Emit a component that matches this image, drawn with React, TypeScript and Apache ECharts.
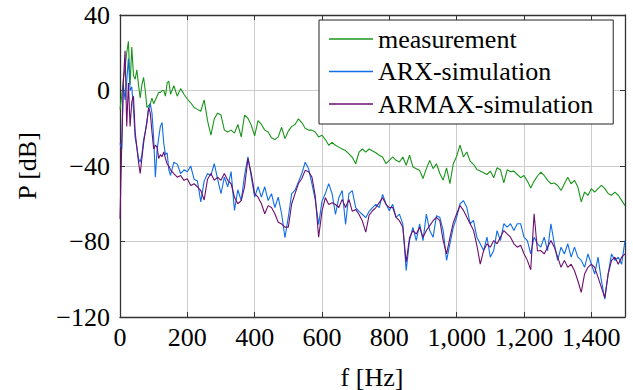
import { useEffect, useRef } from "react";
import * as echarts from "echarts";

// frequency grid [Hz]
const FREQ = [
  0, 5, 10, 15, 20, 25, 30, 35, 40, 45, 50, 55, 60, 65, 70, 75, 80, 85, 90, 95, 100, 105, 110, 115, 120, 125, 130, 135, 140, 145, 150,
  160, 170, 180, 190, 200, 210, 220, 230, 240, 250,
  260, 270, 280, 290, 300, 310, 320, 330, 340, 350,
  360, 370, 380, 390, 400, 410, 420, 430, 440, 450,
  460, 470, 480, 490, 500, 510, 520, 530, 540, 550,
  560, 570, 580, 590, 600, 610, 620, 630, 640, 650,
  660, 670, 680, 690, 700, 710, 720, 730, 740, 750,
  760, 770, 780, 790, 800, 810, 820, 830, 840, 850,
  860, 870, 880, 890, 900, 910, 920, 930, 940, 950,
  960, 970, 980, 990, 1000, 1010, 1020, 1030, 1040, 1050,
  1060, 1070, 1080, 1090, 1100, 1110, 1120, 1130, 1140, 1150,
  1160, 1170, 1180, 1190, 1200, 1210, 1220, 1230, 1240, 1250,
  1260, 1270, 1280, 1290, 1300, 1310, 1320, 1330, 1340, 1350,
  1360, 1370, 1380, 1390, 1400, 1410, 1420, 1430, 1440, 1450,
  1460, 1470, 1480, 1490, 1500,
];

const MEASUREMENT = [
  -10, -3, 6, 12, 20, 26, 3, 23, 8, 6, 11, 3, -4, 3, 7, 0, -9, -8, -7, -4, -7, -5, -3, -1, -1, 0, 0, -3, 4, 5, -2,
  2.5, -3, 1, -2, -4.5, -6.5, -9, -10, -11, -5,
  -16, -23.7, -15, -12, -13, -21, -22, -21, -22.6, -18,
  -24.6, -13, -14.7, -18.4, -24, -16, -18, -21, -22, -25,
  -26, -24.6, -19.5, -25.5, -21.5, -19, -18, -15, -17, -20,
  -21, -21, -22, -24.6, -23.7, -26, -29, -27.5, -29, -30,
  -31, -31.8, -33.6, -35.4, -38.8, -32.7, -31, -32.7, -31, -32,
  -33, -34.3, -35.2, -38.8, -37, -35.2, -37, -37.9, -35.2, -39.6,
  -34.3, -40.5, -41.4, -42.3, -46.6, -41.4, -37, -41.4, -38.8, -44,
  -47.5, -41, -49.3, -38.8, -34.8, -29, -35.2, -32.6, -37.4, -39.1,
  -41.8, -42.7, -43.6, -44.5, -42.7, -46.2, -40.9, -42, -49, -42,
  -43, -42.7, -44.5, -46.2, -45, -48, -51.6, -48, -45.3, -43.3,
  -45, -47.6, -49.4, -49, -50.3, -53, -49.4, -45.9, -49.4, -47.6,
  -51.1, -59, -53.8, -55.5, -52, -53.8, -52, -50.3, -52, -54.6,
  -55.5, -53.8, -55.5, -58.2, -61,
];

const ARX_SIM = [
  -28, -31, 3, -5, 5, 17, 0, 2, -10, -25, -30, -36, -38, -34, -26, -22, -16, -10, -7, -12, -25, -46, -32, -25, -19, -17, -28, -34, -33, -42, -45,
  -38, -39, -44, -42, -43, -40, -47, -48, -59, -48,
  -44, -45, -38.8, -47, -54.7, -45.9, -51, -43, -63.5, -52.6,
  -58.3, -45, -35.2, -45.9, -56.5, -51, -56.5, -51, -58.3, -54.7,
  -62, -56.5, -65.3, -78, -67, -54.6, -52.8, -48.4, -44, -38,
  -41.3, -49.3, -58, -71, -58.6, -54.6, -49.3, -54.6, -65.7, -56.8,
  -53, -71, -54.6, -53, -62, -64, -65.7, -67.4, -64, -62,
  -60.3, -62, -55, -60, -63.7, -60.3, -67.2, -65.5, -70.7, -95.4,
  -79.5, -72.5, -79.5, -70.7, -79.5, -65.5, -74.2, -77.8, -66.3, -67.2,
  -74.2, -90, -81.3, -72.5, -67.2, -60, -58.3, -61.8, -70.6, -68.8,
  -77.7, -81.2, -84.8, -77.7, -88.3, -84.8, -74.2, -79.5, -70.6, -72.4,
  -70.6, -74.2, -70.6, -70.6, -77.7, -79.5, -86.5, -77.7, -81.2, -83,
  -77.7, -84.8, -70.6, -81.2, -90, -83, -86.6, -81.2, -88.3, -83,
  -88.3, -90, -93.7, -86.6, -92, -97.2, -88.3, -101, -110.5, -97.2,
  -86.6, -90, -88.3, -92, -79.5,
];

const ARMAX_SIM = [
  -68, -30, 5, 21, -19, 4, -19, -6, -3, -22, -30, -38, -44, -36, -28, -22, -17, -9, -12, -22, -31, -29, -30, -36, -34, -35, -32.5, -36, -39, -40, -42,
  -44, -45.9, -45, -47.6, -46.8, -50.3, -49.4, -51, -53, -58,
  -47, -44, -47.6, -45.9, -47.6, -44, -47.6, -49.4, -56.5, -60,
  -58.3, -51, -36, -44, -54.7, -56.5, -60, -65.3, -61, -62,
  -65.3, -69.8, -70.7, -72.4, -72.4, -60, -54.6, -49.3, -46.6, -42.3,
  -43, -45.8, -56, -77.7, -63.9, -56.8, -60.4, -59.5, -60.4, -62,
  -57.7, -62, -57.7, -64, -63, -65.7, -69.2, -75, -66, -63.7,
  -62, -59.4, -56.8, -60.3, -62, -62, -67.2, -69, -72.5, -91,
  -78, -74.2, -76, -72.5, -77.8, -74.2, -71.6, -69, -67.2, -69,
  -79.5, -86.6, -78, -70, -65.3, -60.9, -63.5, -67, -70.6, -74,
  -82, -92, -84.8, -81.2, -83, -79.5, -81.2, -77.7, -74.2, -76,
  -77.7, -81.2, -83, -82, -86.5, -90, -95, -65.3, -85, -84.8,
  -86.6, -83, -79.5, -83, -88.3, -93.7, -90, -93.7, -92, -95.5,
  -100.8, -107, -97.2, -93.7, -92, -93.7, -99, -104.4, -109.7, -97.2,
  -90, -88.3, -92, -88.3, -86.6,
];

const SERIES_NAMES = ["measurement", "ARX-simulation", "ARMAX-simulation"];
const SERIES_COLORS = ["#1a961a", "#0f6ee8", "#6c0f6e"];
const X_LABEL = "f [Hz]";
const Y_LABEL = "P [dB]";

const FONT = "'Liberation Serif', serif";

function fmtX(v: number): string {
  if (v >= 1500) return "";
  const s = v >= 1000 ? `${Math.floor(v / 1000)},${String(v % 1000).padStart(3, "0")}` : String(v);
  return `{t|${s}}`;
}
function fmtY(v: number): string {
  const s = v < 0 ? "\u2212" + Math.abs(v) : String(v);
  return `{t|${s}}`;
}

export default function App() {
  const ref = useRef<HTMLDivElement>(null);
  useEffect(() => {
    const chart = echarts.init(ref.current!, null, { renderer: "svg" });
    const pairs = (vals: number[]) => FREQ.map((f, i) => [f, vals[i]]);
    const axisLine = { show: true, onZero: false, lineStyle: { color: "#333", width: 1.3 } };
    const tick = { show: true, inside: true, length: 5, lineStyle: { color: "#333", width: 1 } };
    const data = [MEASUREMENT, ARX_SIM, ARMAX_SIM];
    const rich = { t: { fontSize: 26, fontFamily: FONT, color: "#000", lineHeight: 26 } };
    chart.setOption({
      animation: false,
      backgroundColor: "#fff",
      textStyle: { fontFamily: FONT, color: "#000", fontSize: 26 },
      grid: { left: 120, right: 8, top: 15, bottom: 73, containLabel: false },
      xAxis: [
        {
          type: "value", min: 0, max: 1500, interval: 200, position: "bottom",
          axisLine, axisTick: tick,
          axisLabel: { fontSize: 26, fontFamily: FONT, color: "#000", margin: 7, formatter: fmtX, rich, showMaxLabel: false },
          splitLine: { show: true, lineStyle: { color: "#cccccc", width: 1 } },
        },
        {
          type: "value", min: 0, max: 1500, interval: 200, position: "top",
          axisLine, axisTick: tick, axisLabel: { show: false }, splitLine: { show: false },
        },
      ],
      yAxis: [
        {
          type: "value", min: -120, max: 40, interval: 40, position: "left",
          axisLine, axisTick: tick,
          axisLabel: { fontSize: 26, fontFamily: FONT, color: "#000", margin: 10, formatter: fmtY, rich },
          splitLine: { show: true, lineStyle: { color: "#cccccc", width: 1 } },
        },
        {
          type: "value", min: -120, max: 40, interval: 40, position: "right",
          axisLine, axisTick: tick, axisLabel: { show: false }, splitLine: { show: false },
        },
      ],
      legend: {
        orient: "vertical",
        left: 319,
        top: 20,
        padding: [6, 20, 7, 10],
        itemWidth: 44,
        itemHeight: 1.5,
        itemGap: 6.5,
        icon: "rect",
        borderColor: "#222",
        borderWidth: 1,
        backgroundColor: "#fff",
        textStyle: { fontSize: 26, fontFamily: FONT, color: "#000", lineHeight: 26 },
        data: SERIES_NAMES,
      },
      graphic: [
        {
          type: "text", x: 372, y: 377,
          style: { text: X_LABEL, font: `26px ${FONT}`, fill: "#000", textAlign: "center", textVerticalAlign: "middle" },
        },
        {
          type: "text", x: 27, y: 166, rotation: Math.PI / 2,
          style: { text: Y_LABEL, font: `26px ${FONT}`, fill: "#000", textAlign: "center", textVerticalAlign: "middle" },
        },
      ],
      series: SERIES_NAMES.map((name, i) => ({
        name,
        type: "line",
        data: pairs(data[i]),
        symbol: "none",
        color: SERIES_COLORS[i],
        lineStyle: { color: SERIES_COLORS[i], width: 1.1 },
        z: 2 + i,
      })),
    });
    return () => chart.dispose();
  }, []);
  return <div ref={ref} style={{ position: "fixed", left: 0, top: 0, width: 633, height: 390 }} />;
}
